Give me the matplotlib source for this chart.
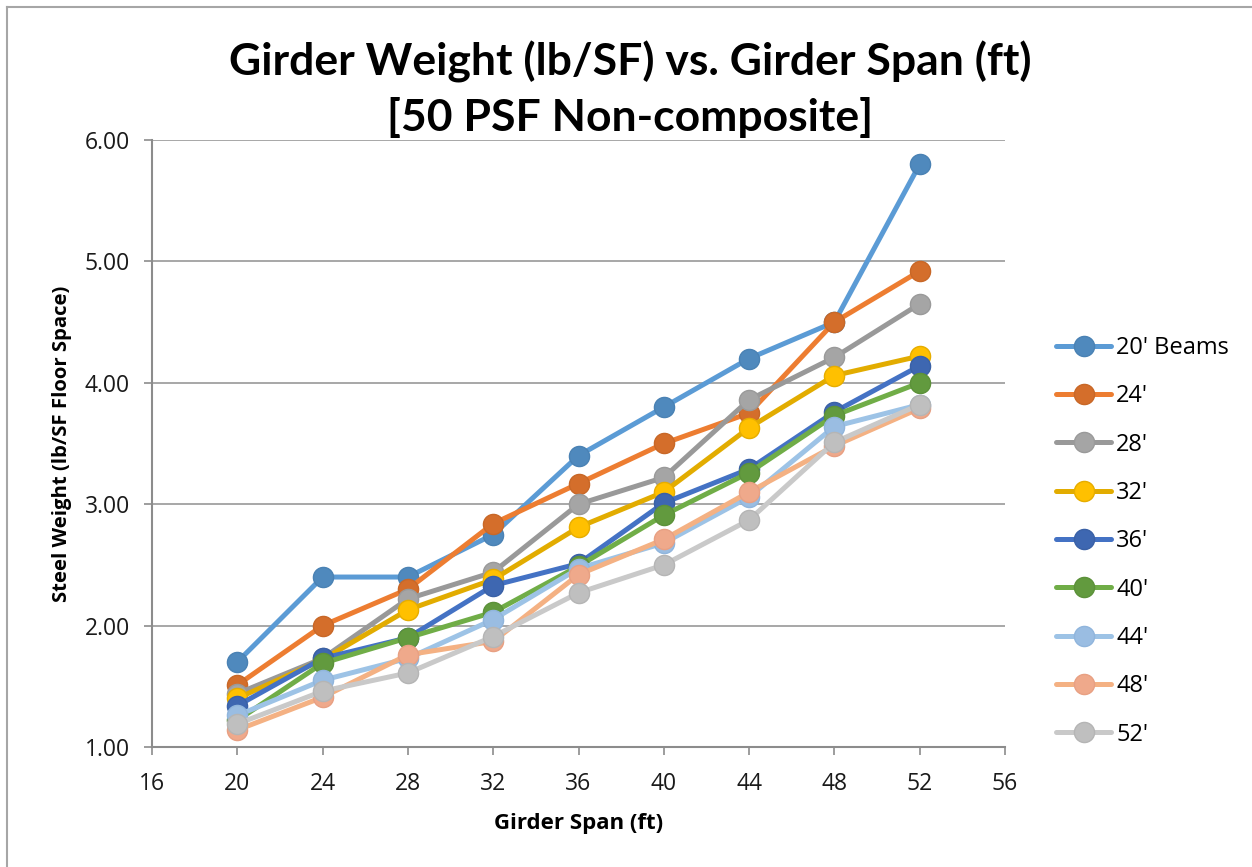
import matplotlib
matplotlib.use("Agg")
import matplotlib.pyplot as plt
from matplotlib.lines import Line2D

spans = [20, 24, 28, 32, 36, 40, 44, 48, 52]
labels = ["20' Beams", "24'", "28'", "32'", "36'", "40'", "44'", "48'", "52'"]
b20 = [1.70, 2.40, 2.40, 2.75, 3.40, 3.80, 4.20, 4.50, 5.80]
b24 = [1.51, 2.00, 2.30, 2.84, 3.17, 3.50, 3.75, 4.50, 4.92]
b28 = [1.44, 1.73, 2.22, 2.44, 3.00, 3.22, 3.86, 4.21, 4.65]
b32 = [1.40, 1.72, 2.13, 2.38, 2.81, 3.10, 3.63, 4.06, 4.22]
b36 = [1.34, 1.73, 1.90, 2.33, 2.51, 3.01, 3.29, 3.76, 4.14]
b40 = [1.22, 1.69, 1.90, 2.11, 2.49, 2.91, 3.26, 3.73, 4.00]
b44 = [1.26, 1.55, 1.73, 2.05, 2.47, 2.68, 3.06, 3.64, 3.82]
b48 = [1.14, 1.41, 1.76, 1.87, 2.42, 2.71, 3.10, 3.48, 3.79]
b52 = [1.19, 1.46, 1.61, 1.91, 2.27, 2.50, 2.87, 3.51, 3.82]
series = [b20, b24, b28, b32, b36, b40, b44, b48, b52]

line_colors = ["#5B9BD5", "#ED7D31", "#999999", "#E2AC00", "#4472C4",
               "#70AD47", "#9DC3E6", "#F4B183", "#C9C9C9"]
marker_colors = ["#4F89BD", "#D46E2B", "#A5A5A5", "#FFC000", "#3E67B1",
                 "#629A3E", "#9ABDE2", "#EFA98B", "#BFBFBF"]
edge_colors = ["#4A82B4", "#C86828", "#9A9A9A", "#E6AD00", "#3A61A6",
               "#5C913A", "#90B5DC", "#E8A083", "#B5B5B5"]

fig = plt.figure(figsize=(12.52, 8.67), dpi=100)
ax = fig.add_axes([152/1252, 1-747/867, (1005-152)/1252, (747-140)/867])

for ys, lab, lc, mc, ec in zip(series, labels, line_colors, marker_colors, edge_colors):
    ax.plot(spans, ys, color=lc, lw=3.6, marker='o', markersize=14.5,
            markerfacecolor=mc, markeredgecolor=ec, markeredgewidth=1.0,
            label=lab, solid_capstyle='round', solid_joinstyle='round')

ax.set_xlim(16, 56)
ax.set_ylim(1.0, 6.0)
ax.set_xticks(range(16, 57, 4))
ax.set_yticks([1, 2, 3, 4, 5, 6])
ax.set_yticklabels([f"{v:.2f}" for v in [1, 2, 3, 4, 5, 6]])

ax.grid(axis='y', color='#A0A0A0', lw=1.3)
ax.set_axisbelow(True)
for s in ['top', 'right']:
    ax.spines[s].set_visible(False)
for s in ['left', 'bottom']:
    ax.spines[s].set_color('#8C8C8C')
    ax.spines[s].set_linewidth(1.5)
ax.tick_params(axis='both', direction='out', length=6, width=1.2, color='#8C8C8C',
               labelsize=16.5, labelcolor='#1a1a1a')
ax.tick_params(axis='x', pad=12)
ax.tick_params(axis='y', pad=10)
for t in ax.get_xticklabels() + ax.get_yticklabels():
    t.set_fontfamily('Open Sans')

ax.set_xlabel("Girder Span (ft)", fontsize=16, fontweight='bold', family='Open Sans',
              labelpad=12)
ax.set_ylabel("Steel Weight (lb/SF Floor Space)", fontsize=14.6, fontweight='bold',
              family='Open Sans', labelpad=9)

fig.text(630/1252, 1-62/867, "Girder Weight (lb/SF) vs. Girder Span (ft)",
         ha='center', va='center', fontsize=32, fontweight='bold', family='Lato')
fig.text(630/1252, 1-118/867, "[50 PSF Non-composite]",
         ha='center', va='center', fontsize=32, fontweight='bold', family='Lato')

leg = fig.legend(loc='upper left', bbox_to_anchor=(1056/1252, 1-336/867),
                 frameon=False, prop={'family': 'Open Sans', 'size': 17},
                 handlelength=2.35, handletextpad=0.2, labelspacing=1.03,
                 borderpad=0, borderaxespad=0)

fig.add_artist(Line2D([7/1252, 1], [1-7/867, 1-7/867], color='#A6A6A6', lw=1.5,
                      transform=fig.transFigure))
fig.add_artist(Line2D([7/1252, 7/1252], [0, 1-7/867], color='#A6A6A6', lw=1.5,
                      transform=fig.transFigure))

fig.savefig("out.png", dpi=100)
